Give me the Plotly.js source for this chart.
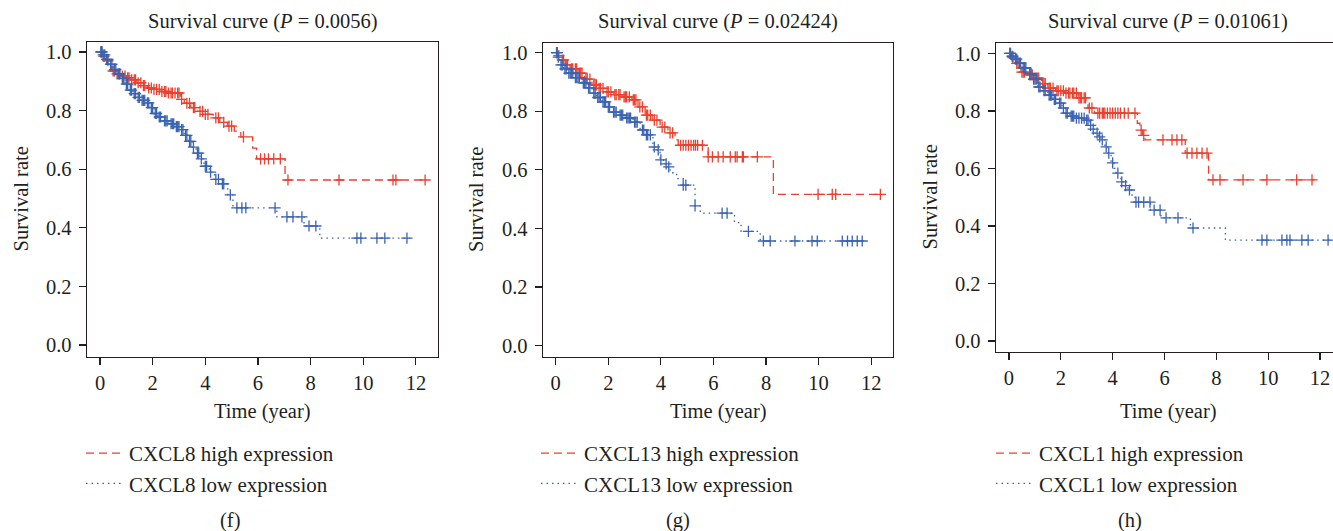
<!DOCTYPE html>
<html>
<head>
<meta charset="utf-8">
<script src="https://cdn.plot.ly/plotly-3.0.1.min.js"></script>
<style>html,body{margin:0;padding:0;background:#fff;}#chart{width:1333px;height:531px;}</style>
</head>
<body>
<div id="chart"></div>
<script>
// ---------- data ----------
const pValues = ["0.0056", "0.02424", "0.01061"];
const genes = ["CXCL8", "CXCL13", "CXCL1"];
const panelLabels = ["(f)", "(g)", "(h)"];
const xTicks = [0, 2, 4, 6, 8, 10, 12];

// Panel f
const fHighT = [0, 0.1, 0.25, 0.45, 0.6, 0.8, 1.0, 1.2, 1.4, 1.6, 1.8, 2.0, 2.3, 2.6, 3.05, 3.2, 3.45, 3.7, 3.95, 4.3, 4.55, 4.85, 5.1, 5.35, 5.8, 5.95, 7.03];
const fHighS = [1.0, 0.985, 0.97, 0.935, 0.925, 0.918, 0.912, 0.905, 0.895, 0.885, 0.877, 0.872, 0.865, 0.86, 0.838, 0.825, 0.81, 0.797, 0.787, 0.775, 0.76, 0.747, 0.73, 0.71, 0.672, 0.635, 0.563];
const fHighEnd = 12.38;
const fHighCens = [0.05, 0.15, 0.3, 0.5, 0.55, 0.65, 0.75, 0.85, 0.95, 1.05, 1.1, 1.2, 1.3, 1.35, 1.45, 1.55, 1.65, 1.7, 1.85, 1.95, 2.05, 2.15, 2.25, 2.35, 2.45, 2.5, 2.6, 2.7, 2.75, 2.85, 2.95, 3.0, 3.1, 3.3, 3.4, 3.55, 3.6, 3.8, 3.9, 4.0, 4.1, 4.4, 4.5, 4.7, 4.9, 5.0, 5.45, 6.1, 6.25, 6.4, 6.6, 6.85, 7.14, 9.08, 11.13, 11.24, 12.35];
const fLowT = [0, 0.1, 0.2, 0.35, 0.5, 0.65, 0.8, 0.95, 1.1, 1.25, 1.4, 1.55, 1.75, 1.9, 2.05, 2.2, 2.4, 2.6, 2.85, 3.05, 3.2, 3.35, 3.5, 3.65, 3.8, 3.95, 4.15, 4.35, 4.6, 4.85, 5.05, 6.72, 7.75, 8.35];
const fLowS = [1.0, 0.99, 0.975, 0.958, 0.94, 0.925, 0.91, 0.89, 0.87, 0.858, 0.845, 0.835, 0.826, 0.81, 0.79, 0.778, 0.765, 0.755, 0.745, 0.735, 0.715, 0.695, 0.675, 0.655, 0.635, 0.61, 0.59, 0.565, 0.55, 0.512, 0.468, 0.437, 0.406, 0.365];
const fLowEnd = 11.77;
const fLowCens = [0.03, 0.06, 0.08, 0.12, 0.18, 0.25, 0.3, 0.4, 0.45, 0.55, 0.6, 0.7, 0.75, 0.85, 0.9, 1.0, 1.05, 1.15, 1.2, 1.3, 1.35, 1.45, 1.5, 1.6, 1.65, 1.7, 1.8, 1.85, 1.95, 2.0, 2.1, 2.15, 2.25, 2.3, 2.45, 2.5, 2.55, 2.7, 2.75, 2.8, 2.9, 2.95, 3.0, 3.1, 3.15, 3.25, 3.3, 3.4, 3.45, 3.55, 3.7, 3.75, 3.85, 4.0, 4.05, 4.2, 4.4, 4.5, 4.65, 4.7, 4.95, 5.2, 5.39, 5.54, 6.65, 7.1, 7.33, 7.67, 7.94, 8.2, 9.76, 9.91, 10.52, 10.82, 11.66];

// Panel g
const gHighT = [0, 0.1, 0.2, 0.36, 0.55, 0.85, 1.1, 1.38, 1.6, 1.88, 2.2, 2.53, 2.9, 3.13, 3.4, 3.67, 3.97, 4.27, 4.54, 4.66, 5.8, 8.28];
const gHighS = [1.0, 0.99, 0.975, 0.958, 0.945, 0.93, 0.91, 0.89, 0.878, 0.866, 0.857, 0.849, 0.839, 0.815, 0.787, 0.77, 0.746, 0.726, 0.702, 0.684, 0.644, 0.516];
const gHighEnd = 12.4;
const gHighCens = [0.04, 0.12, 0.25, 0.3, 0.4, 0.45, 0.6, 0.65, 0.75, 0.8, 0.9, 0.95, 1.0, 1.15, 1.2, 1.3, 1.45, 1.5, 1.55, 1.65, 1.7, 1.8, 1.95, 2.0, 2.1, 2.25, 2.3, 2.4, 2.45, 2.6, 2.65, 2.7, 2.8, 2.95, 3.0, 3.05, 3.2, 3.3, 3.45, 3.5, 3.6, 3.75, 3.85, 4.05, 4.15, 4.35, 4.45, 4.75, 4.85, 4.95, 5.05, 5.15, 5.25, 5.32, 5.4, 5.58, 5.8, 5.96, 6.18, 6.37, 6.64, 6.83, 6.9, 7.1, 7.14, 7.67, 9.98, 10.52, 10.65, 12.35];
const gLowT = [0, 0.08, 0.16, 0.3, 0.47, 0.7, 1.0, 1.2, 1.38, 1.55, 1.76, 1.95, 2.14, 2.4, 2.64, 2.94, 3.21, 3.4, 3.7, 3.85, 3.97, 4.1, 4.24, 4.35, 4.6, 4.85, 5.3, 5.5, 6.8, 7.05, 7.78];
const gLowS = [1.0, 0.985, 0.958, 0.945, 0.93, 0.915, 0.897, 0.88, 0.862, 0.847, 0.832, 0.815, 0.797, 0.787, 0.777, 0.763, 0.736, 0.719, 0.678, 0.668, 0.634, 0.62, 0.61, 0.59, 0.57, 0.548, 0.477, 0.452, 0.42, 0.39, 0.357];
const gLowEnd = 11.77;
const gLowCens = [0.03, 0.06, 0.1, 0.2, 0.25, 0.35, 0.4, 0.5, 0.55, 0.6, 0.65, 0.75, 0.8, 0.85, 0.9, 1.05, 1.1, 1.15, 1.25, 1.3, 1.45, 1.5, 1.6, 1.65, 1.7, 1.8, 1.85, 1.9, 2.0, 2.05, 2.2, 2.25, 2.3, 2.45, 2.5, 2.55, 2.7, 2.75, 2.8, 2.85, 3.0, 3.05, 3.1, 3.3, 3.35, 3.45, 3.5, 3.6, 3.75, 3.9, 4.0, 4.2, 4.3, 4.85, 4.95, 5.3, 6.33, 6.52, 7.33, 7.9, 8.16, 9.1, 9.75, 9.95, 10.9, 11.1, 11.28, 11.47, 11.66];

// Panel h
const hHighT = [0, 0.1, 0.25, 0.46, 0.7, 1.0, 1.25, 1.5, 1.8, 2.16, 2.66, 2.97, 3.05, 3.3, 4.95, 5.05, 5.15, 5.25, 6.8, 7.7];
const hHighS = [1.0, 0.985, 0.965, 0.935, 0.925, 0.914, 0.895, 0.879, 0.87, 0.862, 0.845, 0.83, 0.81, 0.792, 0.757, 0.733, 0.715, 0.699, 0.653, 0.56];
const hHighEnd = 11.8;
const hHighCens = [0.05, 0.15, 0.3, 0.35, 0.5, 0.55, 0.6, 0.8, 0.85, 0.9, 1.05, 1.1, 1.15, 1.3, 1.35, 1.4, 1.55, 1.6, 1.7, 1.85, 1.9, 2.0, 2.1, 2.2, 2.3, 2.35, 2.45, 2.5, 2.6, 2.7, 2.75, 2.8, 2.9, 2.95, 3.1, 3.2, 3.43, 3.5, 3.6, 3.65, 3.7, 3.8, 3.9, 4.0, 4.1, 4.2, 4.3, 4.45, 4.6, 4.86, 5.1, 5.2, 5.94, 6.29, 6.48, 6.67, 6.87, 7.06, 7.25, 7.45, 7.64, 7.87, 8.14, 9.03, 9.95, 11.1, 11.69];
const hLowT = [0, 0.1, 0.2, 0.35, 0.5, 0.73, 0.9, 1.12, 1.3, 1.5, 1.7, 1.89, 2.05, 2.16, 2.35, 2.55, 2.97, 3.12, 3.22, 3.32, 3.45, 3.55, 3.7, 3.82, 3.94, 4.05, 4.13, 4.32, 4.45, 4.59, 4.75, 4.86, 5.46, 5.86, 7.0, 8.35];
const hLowS = [1.0, 0.99, 0.98, 0.966, 0.95, 0.93, 0.91, 0.883, 0.87, 0.855, 0.84, 0.827, 0.81, 0.792, 0.782, 0.775, 0.768, 0.75, 0.737, 0.723, 0.71, 0.699, 0.675, 0.653, 0.619, 0.6, 0.584, 0.553, 0.54, 0.525, 0.5, 0.483, 0.455, 0.428, 0.393, 0.351];
const hLowEnd = 12.5;
const hLowCens = [0.03, 0.06, 0.12, 0.15, 0.25, 0.3, 0.4, 0.45, 0.55, 0.6, 0.65, 0.8, 0.85, 0.95, 1.0, 1.05, 1.15, 1.2, 1.35, 1.4, 1.55, 1.6, 1.65, 1.75, 1.8, 1.95, 2.0, 2.1, 2.2, 2.25, 2.4, 2.45, 2.5, 2.6, 2.7, 2.8, 2.9, 3.0, 3.05, 3.15, 3.25, 3.4, 3.5, 3.6, 3.75, 3.85, 4.0, 4.2, 4.35, 4.5, 4.65, 4.9, 5.0, 5.2, 5.44, 5.6, 5.83, 6.06, 6.52, 7.1, 9.76, 9.95, 10.53, 10.72, 10.84, 11.3, 11.54, 12.31];

// ---------- styling ----------
const RED = '#e8412f';
const BLUE = '#3a63b2';
const INK = '#231f20';
const FONT = 'Liberation Serif, Times New Roman, serif';
const FS = 20.5;

function stepAt(T, S, t) {
  let v = S[0];
  for (let i = 0; i < T.length; i++) { if (T[i] <= t) v = S[i]; }
  return v;
}

const panels = [
  {hT: fHighT, hS: fHighS, hE: fHighEnd, hC: fHighCens, lT: fLowT, lS: fLowS, lE: fLowEnd, lC: fLowCens},
  {hT: gHighT, hS: gHighS, hE: gHighEnd, hC: gHighCens, lT: gLowT, lS: gLowS, lE: gLowEnd, lC: gLowCens},
  {hT: hHighT, hS: hHighS, hE: hHighEnd, hC: hHighCens, lT: hLowT, lS: hLowS, lE: hLowEnd, lC: hLowCens}
];

const W = 1333, H = 531;
const geo = [
  {l: 87, r: 438, t: 42, b: 357, xr: [-0.494, 12.84], yr: [-0.041, 1.034], mirrorY: true, legX: 81},
  {l: 543, r: 893, t: 43, b: 357, xr: [-0.483, 12.83], yr: [-0.039, 1.033], mirrorY: true, legX: 536},
  {l: 996, r: 1333, t: 43, b: 352, xr: [-0.50, 12.5], yr: [-0.038, 1.036], mirrorY: false, legX: 991}
];

const traces = [];
const layout = {
  width: W, height: H,
  margin: {l: 0, r: 0, t: 0, b: 0},
  paper_bgcolor: '#ffffff', plot_bgcolor: '#ffffff',
  font: {family: FONT, size: FS, color: INK},
  showlegend: true,
  annotations: []
};

panels.forEach((p, i) => {
  const g = geo[i];
  const xa = i === 0 ? 'x' : 'x' + (i + 1);
  const ya = i === 0 ? 'y' : 'y' + (i + 1);
  const leg = i === 0 ? 'legend' : 'legend' + (i + 1);
  const series = [
    {T: p.hT, S: p.hS, E: p.hE, C: p.hC, color: RED, dash: '8px,5px', name: genes[i] + ' high expression'},
    {T: p.lT, S: p.lS, E: p.lE, C: p.lC, color: BLUE, dash: '1.5px,4px', name: genes[i] + ' low expression'}
  ];
  series.forEach(s => {
    traces.push({
      type: 'scatter', mode: 'lines', xaxis: xa, yaxis: ya, legend: leg,
      x: s.T.concat([s.E]), y: s.S.concat([s.S[s.S.length - 1]]),
      line: {shape: 'hv', color: s.color, width: 1.3, dash: s.dash},
      name: s.name, showlegend: true, hoverinfo: 'skip'
    });
    traces.push({
      type: 'scatter', mode: 'markers', xaxis: xa, yaxis: ya, legend: leg,
      x: s.C, y: s.C.map(t => stepAt(s.T, s.S, t)),
      marker: {symbol: 'cross-thin', size: 8, color: s.color, line: {color: s.color, width: 1.3}},
      showlegend: false, hoverinfo: 'skip', cliponaxis: false
    });
  });

  const xd = [g.l / W, g.r / W];
  const yd = [1 - g.b / H, 1 - g.t / H];
  layout['xaxis' + (i === 0 ? '' : i + 1)] = {
    domain: xd, range: g.xr, anchor: ya,
    tickmode: 'array', tickvals: xTicks, ticktext: xTicks.map(String),
    ticks: 'outside', ticklen: 7, tickwidth: 1.2, tickcolor: INK,
    showline: true, mirror: true, linecolor: INK, linewidth: 1.4,
    showgrid: false, zeroline: false, tickfont: {family: FONT, size: FS, color: INK},
    fixedrange: true
  };
  layout['yaxis' + (i === 0 ? '' : i + 1)] = {
    domain: yd, range: g.yr, anchor: xa,
    tick0: 0, dtick: 0.2, tickformat: '.1f',
    ticks: 'outside', ticklen: 7, tickwidth: 1.2, tickcolor: INK, ticklabelstandoff: 3,
    showline: true, mirror: g.mirrorY, linecolor: INK, linewidth: 1.4,
    showgrid: false, zeroline: false, tickfont: {family: FONT, size: FS, color: INK},
    fixedrange: true
  };
  layout[leg] = {
    x: g.legX / W, xanchor: 'left', y: 1 - 433 / H, yanchor: 'top',
    bgcolor: 'rgba(0,0,0,0)', borderwidth: 0, itemwidth: 38,
    font: {family: FONT, size: 21, color: INK}, traceorder: 'normal'
  };
  const cx = (g.l + (i === 2 ? 1340 : g.r)) / 2;
  layout.annotations.push({
    xref: 'paper', yref: 'paper', x: cx / W, y: 1 - 22 / H, xanchor: 'center', yanchor: 'middle',
    text: 'Survival curve (<i>P</i> = ' + pValues[i] + ')', showarrow: false,
    font: {family: FONT, size: FS, color: INK}
  });
  layout.annotations.push({
    xref: 'paper', yref: 'paper', x: cx / W, y: 1 - 411 / H, xanchor: 'center', yanchor: 'middle',
    text: 'Time (year)', showarrow: false, font: {family: FONT, size: FS, color: INK}
  });
  layout.annotations.push({
    xref: 'paper', yref: 'paper', x: (g.l - 67) / W, y: 1 - ((g.t + g.b) / 2) / H, xanchor: 'center', yanchor: 'middle',
    text: 'Survival rate', textangle: -90, showarrow: false, font: {family: FONT, size: FS, color: INK}
  });
  layout.annotations.push({
    xref: 'paper', yref: 'paper', x: [230, 678, 1130][i] / W, y: 1 - 520 / H, xanchor: 'center', yanchor: 'middle',
    text: panelLabels[i], showarrow: false, font: {family: FONT, size: FS, color: INK}
  });
});

Plotly.newPlot('chart', traces, layout, {displayModeBar: false, staticPlot: true});
</script>
</body>
</html>
